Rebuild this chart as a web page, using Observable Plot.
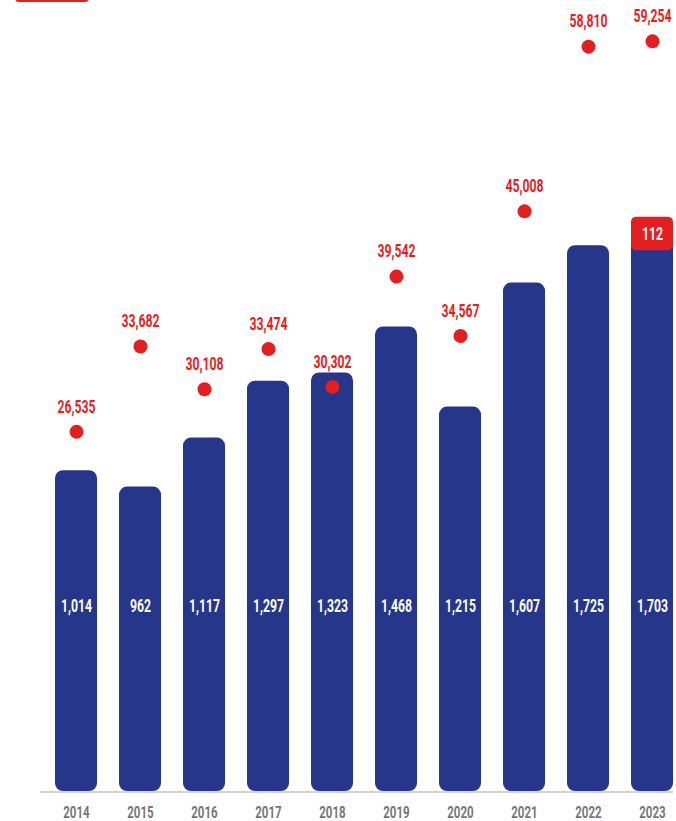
<!DOCTYPE html>
<html>
<head>
<meta charset="utf-8">
<script src="https://cdn.jsdelivr.net/npm/d3@7"></script>
<script src="https://cdn.jsdelivr.net/npm/@observablehq/plot@0.6"></script>
<style>
  html, body { margin: 0; padding: 0; background: #fff; overflow: hidden; }
  #wrap { position: relative; width: 676px; height: 821px; }
  #legendBox { position: absolute; left: 15px; top: -20px; width: 74px; height: 22px; background: #e31f1f; border-radius: 4px; }
  #chart { position: absolute; left: 0; top: 0; }
</style>
</head>
<body>
<div id="wrap">
  <div id="chart"></div>
  <div id="legendBox"></div>
</div>
<script>
const years = ["2014","2015","2016","2017","2018","2019","2020","2021","2022","2023"];
const barValues = [1014, 962, 1117, 1297, 1323, 1468, 1215, 1607, 1725, 1703];
const dotValues = [26535, 33682, 30108, 33474, 30302, 39542, 34567, 45008, 58810, 59254];
const extraYear = "2023";
const extraValue = 112;

const BLUE = "#25368b";
const RED = "#e31f1f";
const FONT = "Roboto, 'Open Sans', sans-serif";

const bars = years.map((y, i) => ({year: y, value: barValues[i], dot: dotValues[i]}));
const extra = bars.filter(d => d.year === extraYear).map(d => ({year: d.year, base: d.value, top: d.value + extraValue, value: extraValue}));

// secondary scale for the dots, mapped into the bar units
const dotScale = d3.scaleLinear().domain([0, 60000]).range([135.6, 2399.1]);

const fmt = d3.format(",");

const chart = Plot.plot({
  width: 676,
  height: 821,
  marginTop: 0,
  marginBottom: 30,
  marginLeft: 40,
  marginRight: 3,
  style: {fontFamily: FONT, background: "#fff"},
  x: {domain: years, paddingInner: 0.35, paddingOuter: 0.12, align: 1, axis: null},
  y: {domain: [0, 2500], axis: null},
  marks: [
    Plot.barY(extra, {x: "year", y1: d => d.base - 30, y2: d => (d.base + d.top) / 2, fill: BLUE}),
    Plot.barY(bars, {x: "year", y: "value", fill: BLUE, rx: 8}),
    Plot.barY(extra, {x: "year", y1: d => d.base + 6, y2: "top", fill: RED, rx: 5}),
    Plot.text(extra, {x: "year", y: d => (d.base + 6 + d.top) / 2, text: d => fmt(d.value), fill: "#fff", fontSize: 18, fontWeight: "bold"}),
    Plot.ruleY([0], {stroke: "#c4c4c4", strokeWidth: 1.5, dy: 0.5}),
    Plot.text(bars, {x: "year", y: 0, dy: -185, text: d => fmt(d.value), fill: "#fff", fontSize: 18, fontWeight: "bold"}),
    Plot.dot(bars, {x: "year", y: d => dotScale(d.dot), r: 7, fill: RED}),
    Plot.text(bars, {x: "year", y: d => dotScale(d.dot), dy: -25, text: d => fmt(d.dot), fill: RED, fontSize: 18, fontWeight: "bold"}),
    Plot.axisX({tickSize: 0, tickPadding: 14, fontSize: 17, fontWeight: "bold", fill: "#777", color: "#777", label: null})
  ]
});
document.getElementById("chart").appendChild(chart);

// condense the glyphs to mimic the narrow typeface of the original
chart.querySelectorAll("text").forEach(t => {
  const w = t.getComputedTextLength();
  if (w > 0) {
    t.setAttribute("textLength", (w * 0.68).toFixed(1));
    t.setAttribute("lengthAdjust", "spacingAndGlyphs");
  }
});
</script>
</body>
</html>
